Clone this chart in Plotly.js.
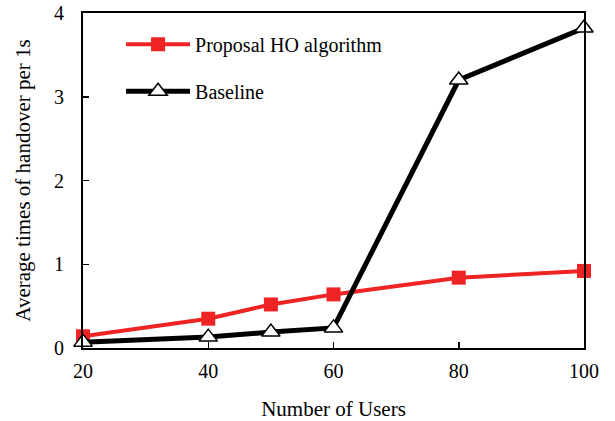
<!DOCTYPE html>
<html>
<head>
<meta charset="utf-8">
<script src="https://cdn.plot.ly/plotly-3.0.1.min.js"></script>
<style>html,body{margin:0;padding:0;background:#fff;}#chart{width:615px;height:421px;}</style>
</head>
<body>
<div id="chart"></div>
<script>
const users = [20, 40, 50, 60, 80, 100];
const proposal = [0.14, 0.35, 0.52, 0.64, 0.84, 0.92];
const baseline = [0.07, 0.13, 0.19, 0.24, 3.20, 3.82];
const xTicks = [20, 40, 60, 80, 100];
const yTicks = [0, 1, 2, 3, 4];

const font = "'Liberation Serif', 'Times New Roman', serif";

const traces = [
  {
    x: users, y: proposal, name: 'Proposal HO algorithm', type: 'scatter', mode: 'lines+markers',
    legendgroup: 'a', cliponaxis: false,
    line: {color: '#EE2424', width: 4},
    marker: {symbol: 'square', size: 14, color: '#EE2424'}
  },
  {
    x: users, y: baseline, name: 'Baseline', type: 'scatter', mode: 'lines+markers',
    legendgroup: 'b', cliponaxis: false,
    line: {color: '#000000', width: 5},
    marker: {symbol: 'triangle-up', size: 16, color: '#FFFFFF', line: {color: '#000000', width: 1.5}}
  }
];

const layout = {
  width: 615, height: 421,
  margin: {l: 83, r: 31, t: 13, b: 73},
  paper_bgcolor: '#fff', plot_bgcolor: '#fff',
  font: {family: font, size: 20, color: '#000'},
  showlegend: true,
  legend: {
    x: 0.076, y: 0.965, xanchor: 'left', yanchor: 'top',
    bgcolor: 'rgba(0,0,0,0)', font: {family: font, size: 20, color: '#000'},
    traceorder: 'grouped', tracegroupgap: 18, itemwidth: 64
  },
  xaxis: {
    range: [20, 100], tickvals: xTicks, ticktext: xTicks.map(String),
    ticks: 'inside', ticklen: 6, tickwidth: 1.5, tickcolor: '#000',
    showline: true, linecolor: '#000', linewidth: 2, mirror: true,
    showgrid: false, zeroline: false, ticklabelstandoff: 4,
    tickfont: {family: font, size: 20, color: '#000'},
    title: {text: 'Number of Users', font: {family: font, size: 21, color: '#000'}, standoff: 20}
  },
  yaxis: {
    range: [0, 4], tickvals: yTicks, ticktext: yTicks.map(String),
    ticks: 'inside', ticklen: 6, tickwidth: 1.5, tickcolor: '#000',
    showline: true, linecolor: '#000', linewidth: 2, mirror: true,
    showgrid: false, zeroline: false, ticklabelstandoff: 13,
    tickfont: {family: font, size: 20, color: '#000'},
    title: {text: 'Average times of handover per 1s', font: {family: font, size: 21, color: '#000'}, standoff: 18}
  }
};

Plotly.newPlot('chart', traces, layout, {displayModeBar: false, staticPlot: true});
</script>
</body>
</html>
